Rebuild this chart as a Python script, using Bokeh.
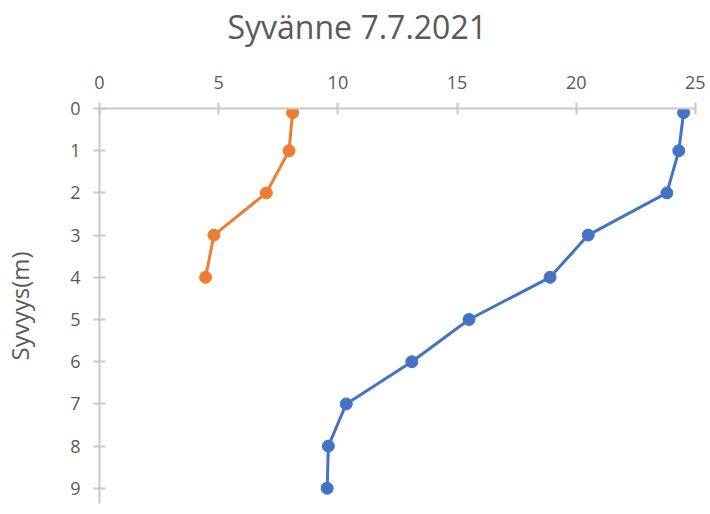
from bokeh.plotting import figure
from bokeh.models import Range1d, FixedTicker, Title
from bokeh.embed import file_html
from bokeh.resources import INLINE

title_text = "Syvänne 7.7.2021"
y_label = "Syvyys(m)"

# Blue series (temperature)
blue_depth = [0.1, 1, 2, 3, 4, 5, 6, 7, 8, 9]
blue_value = [24.5, 24.3, 23.8, 20.5, 18.9, 15.5, 13.1, 10.35, 9.6, 9.55]

# Orange series (oxygen)
orange_depth = [0.1, 1, 2, 3, 4]
orange_value = [8.1, 7.95, 7.0, 4.8, 4.45]

x_ticks = [0, 5, 10, 15, 20, 25]
y_ticks = [0, 1, 2, 3, 4, 5, 6, 7, 8, 9]

BLUE = "#4472C4"
ORANGE = "#ED7D31"
GREY_TXT = "#595959"
AXIS_GREY = "#C8C8C8"
FONT = "Open Sans"

p = figure(width=705, height=510, output_backend="svg", toolbar_location=None,
           x_axis_location="above",
           x_range=Range1d(0, 25), y_range=Range1d(9.36, 0),
           min_border_left=97, min_border_right=10, min_border_top=108,
           min_border_bottom=7)
p.title = None
# empty spacer between the top axis and the title
spacer = Title(text=" ", text_font=FONT, text_font_size="17px", standoff=0)
p.add_layout(spacer, "above")
t = Title(text=title_text, align="left", offset=128,
          text_font=FONT, text_font_size="32px", text_font_style="normal",
          text_color=GREY_TXT, standoff=0)
p.add_layout(t, "above")

p.outline_line_color = None
p.grid.grid_line_color = None

for ax in (p.xaxis[0], p.yaxis[0]):
    ax.axis_line_color = AXIS_GREY
    ax.axis_line_width = 2
    ax.major_tick_line_color = AXIS_GREY
    ax.major_tick_line_width = 2
    ax.major_tick_in = 6
    ax.major_tick_out = 6
    ax.minor_tick_line_color = None
    ax.major_label_text_font = FONT
    ax.major_label_text_font_size = "18px"
    ax.major_label_text_color = GREY_TXT

p.xaxis.ticker = FixedTicker(ticks=x_ticks)
p.yaxis.ticker = FixedTicker(ticks=y_ticks)
p.xaxis.major_label_standoff = 14
p.yaxis.major_label_standoff = 13
p.yaxis.axis_label = y_label
p.yaxis.axis_label_text_font = FONT
p.yaxis.axis_label_text_font_size = "24px"
p.yaxis.axis_label_text_font_style = "normal"
p.yaxis.axis_label_text_color = GREY_TXT
p.yaxis.axis_label_standoff = 31

p.line(blue_value, blue_depth, line_color=BLUE, line_width=3)
p.scatter(blue_value, blue_depth, size=12, fill_color=BLUE, line_color=BLUE)
p.line(orange_value, orange_depth, line_color=ORANGE, line_width=3)
p.scatter(orange_value, orange_depth, size=12, fill_color=ORANGE, line_color=ORANGE)

open("out.html", "w").write(file_html(p, INLINE))
